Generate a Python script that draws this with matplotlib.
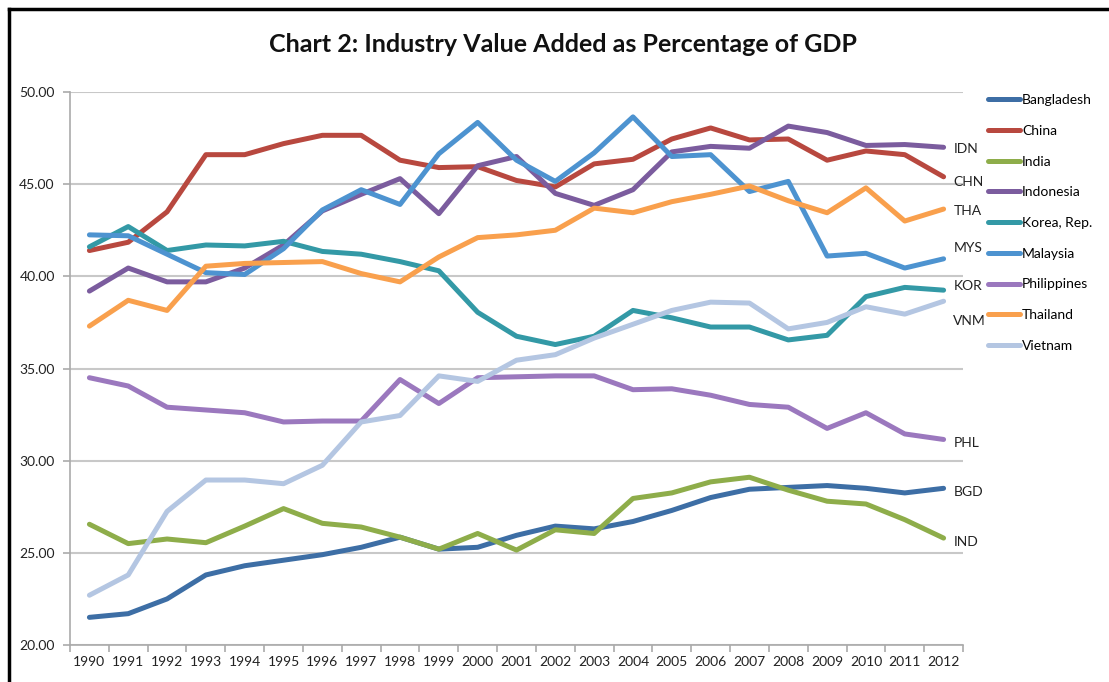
import numpy as np
import matplotlib
matplotlib.use("Agg")
import matplotlib.pyplot as plt
from matplotlib.lines import Line2D

plt.rcParams['font.family'] = ['Lato', 'DejaVu Sans']

years = list(range(1990, 2013))

bangladesh = [21.5, 21.7, 22.5, 23.8, 24.3, 24.6, 24.9, 25.3, 25.85, 25.2, 25.3, 25.95,
              26.45, 26.3, 26.7, 27.3, 28.0, 28.45, 28.55, 28.65, 28.5, 28.25, 28.5]
china = [41.4, 41.85, 43.5, 46.6, 46.6, 47.2, 47.65, 47.65, 46.3, 45.9, 45.95, 45.2,
         44.85, 46.1, 46.35, 47.45, 48.05, 47.4, 47.45, 46.3, 46.8, 46.6, 45.4]
india = [26.55, 25.5, 25.75, 25.55, 26.45, 27.4, 26.6, 26.4, 25.85, 25.2, 26.05, 25.15,
         26.25, 26.05, 27.95, 28.25, 28.85, 29.1, 28.4, 27.8, 27.65, 26.8, 25.8]
indonesia = [39.2, 40.45, 39.7, 39.7, 40.45, 41.7, 43.55, 44.45, 45.3, 43.4, 46.0, 46.5,
             44.5, 43.85, 44.7, 46.75, 47.05, 46.95, 48.15, 47.8, 47.1, 47.15, 47.0]
korea = [41.6, 42.7, 41.4, 41.7, 41.65, 41.9, 41.35, 41.2, 40.8, 40.3, 38.05, 36.75,
         36.3, 36.75, 38.15, 37.75, 37.25, 37.25, 36.55, 36.8, 38.9, 39.4, 39.25]
malaysia = [42.25, 42.2, 41.2, 40.2, 40.1, 41.5, 43.6, 44.7, 43.9, 46.65, 48.35, 46.3,
            45.15, 46.7, 48.65, 46.5, 46.6, 44.6, 45.15, 41.1, 41.25, 40.45, 40.95]
philippines = [34.5, 34.05, 32.9, 32.75, 32.6, 32.1, 32.15, 32.15, 34.4, 33.1, 34.5, 34.55,
               34.6, 34.6, 33.85, 33.9, 33.55, 33.05, 32.9, 31.75, 32.6, 31.45, 31.15]
thailand = [37.3, 38.7, 38.15, 40.55, 40.7, 40.75, 40.8, 40.15, 39.7, 41.05, 42.1, 42.25,
            42.5, 43.7, 43.45, 44.05, 44.45, 44.9, 44.1, 43.45, 44.8, 43.0, 43.65]
vietnam = [22.7, 23.8, 27.25, 28.95, 28.95, 28.75, 29.75, 32.1, 32.45, 34.6, 34.3, 35.45,
           35.75, 36.65, 37.4, 38.15, 38.6, 38.55, 37.15, 37.5, 38.35, 37.95, 38.65]

names = ["Bangladesh", "China", "India", "Indonesia", "Korea, Rep.", "Malaysia",
         "Philippines", "Thailand", "Vietnam"]
codes = ["BGD", "CHN", "IND", "IDN", "KOR", "MYS", "PHL", "THA", "VNM"]
series = [bangladesh, china, india, indonesia, korea, malaysia, philippines, thailand, vietnam]
colors = ["#3D6EA5", "#B8483F", "#8EAD4A", "#7B5C9E", "#3399A6", "#4D93D0",
          "#9B78BE", "#F9A04D", "#B4C6E2"]

# label offsets (in data units) so the end labels don't collide
label_dy = {"IDN": -0.1, "CHN": -0.3, "THA": -0.1, "MYS": 0.6, "KOR": 0.2, "VNM": -1.1,
            "PHL": -0.2, "BGD": -0.2, "IND": -0.2}

fig = plt.figure(figsize=(11.09, 6.82), dpi=100)
ax = fig.add_axes([70/1109, 1-645/682, 893/1109, 553/682])

x = np.arange(len(years))
for vals, col, name in zip(series, colors, names):
    ax.plot(x, vals, color=col, lw=3.6, solid_capstyle="round", solid_joinstyle="round",
            label=name)

for vals, code in zip(series, codes):
    ax.text(x[-1] + 0.25, vals[-1] + label_dy[code], code, fontsize=10, color="#222222",
            va="center", ha="left", clip_on=False)

ax.set_xlim(-0.5, len(years) - 0.5)
ax.set_ylim(20, 50)
ax.set_yticks(np.arange(20, 51, 5))
ax.set_yticklabels([f"{v:.2f}" for v in np.arange(20, 51, 5)], fontsize=10, color="#222222")
ax.yaxis.grid(True, color="#C8C8C8", lw=1.5)
ax.set_axisbelow(True)

ax.set_xticks(np.arange(-0.5, len(years), 1))
ax.set_xticklabels([])
ax.set_xticks(x, minor=True)
ax.set_xticklabels([str(y) for y in years], minor=True, fontsize=10, color="#222222")
ax.tick_params(axis="x", which="major", length=5, color="#AAAAAA", width=1.2)
ax.tick_params(axis="x", which="minor", length=0, pad=8)
ax.tick_params(axis="y", length=5, color="#AAAAAA", width=1.2, pad=6)

for s in ["top", "right"]:
    ax.spines[s].set_visible(False)
for s in ["left", "bottom"]:
    ax.spines[s].set_color("#AAAAAA")
    ax.spines[s].set_linewidth(1.2)

fig.text(563/1109, 1-45/682, "Chart 2: Industry Value Added as Percentage of GDP",
         fontsize=18, fontweight="bold", ha="center", va="center", color="#111111")

handles = [Line2D([0], [0], color=c, lw=3.6, solid_capstyle="round") for c in colors]
leg = fig.legend(handles, names, loc="upper left", bbox_to_anchor=(988/1109, 1-94/682),
                 frameon=False, fontsize=10, handlelength=2.3, handletextpad=0.15,
                 labelspacing=1.35, borderaxespad=0, borderpad=0)

# chart frame (left and top edges visible)
fig.add_artist(Line2D([9/1109, 9/1109], [0, 1-9/682], color="black", lw=2.5))
fig.add_artist(Line2D([9/1109, 1], [1-9/682, 1-9/682], color="black", lw=2.5))

fig.savefig("out.png", dpi=100)
